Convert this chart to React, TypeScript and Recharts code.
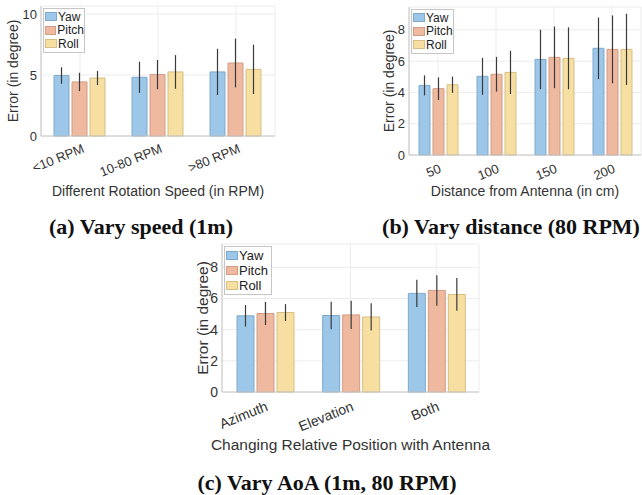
import { BarChart, Bar, XAxis, YAxis, CartesianGrid, ErrorBar } from "recharts";

// (a) rotation speed
const speedCats = ["<10 RPM", "10-80 RPM", ">80 RPM"];
const speedYaw = [4.95, 4.81, 5.25];
const speedPitch = [4.43, 5.03, 5.98];
const speedRoll = [4.75, 5.25, 5.46];
const speedYawErr = [0.68, 1.28, 1.9];
const speedPitchErr = [0.75, 1.2, 2.0];
const speedRollErr = [0.58, 1.38, 2.02];
const speedTicks = [0, 5, 10];

// (b) distance
const distCats = ["50", "100", "150", "200"];
const distYaw = [4.45, 5.03, 6.11, 6.82];
const distPitch = [4.24, 5.16, 6.24, 6.75];
const distRoll = [4.49, 5.28, 6.18, 6.75];
const distYawErr = [0.64, 1.18, 1.9, 1.97];
const distPitchErr = [0.72, 1.11, 1.97, 2.17];
const distRollErr = [0.52, 1.38, 1.98, 2.28];
const distTicks = [0, 2, 4, 6, 8];

// (c) angle of arrival
const aoaCats = ["Azimuth", "Elevation", "Both"];
const aoaYaw = [4.89, 4.91, 6.33];
const aoaPitch = [5.04, 4.95, 6.52];
const aoaRoll = [5.1, 4.82, 6.26];
const aoaYawErr = [0.69, 0.89, 0.88];
const aoaPitchErr = [0.74, 0.9, 0.98];
const aoaRollErr = [0.54, 0.88, 1.05];
const aoaTicks = [0, 2, 4, 6, 8];

const seriesNames = ["Yaw", "Pitch", "Roll"];
const fills = ["#9cc7e8", "#efb9a0", "#f7dfa1"];
const strokes = ["#7ea9cb", "#d39c86", "#d6bf86"];

const SANS = "'Liberation Sans', Arial, sans-serif";

function buildRows(cats, yaw, pitch, roll, yawErr, pitchErr, rollErr) {
  return cats.map((c, i) => ({
    cat: c,
    Yaw: yaw[i],
    Pitch: pitch[i],
    Roll: roll[i],
    YawErr: yawErr[i],
    PitchErr: pitchErr[i],
    RollErr: rollErr[i],
  }));
}

const RotTick = (props) => {
  const { x, y, payload, fs, dx, dy } = props;
  return (
    <g transform={`translate(${x + dx},${y + dy})`}>
      <text
        x={0}
        y={0}
        textAnchor="end"
        transform="rotate(-22)"
        fontSize={fs}
        fill="#333"
        fontFamily={SANS}
      >
        {payload.value}
      </text>
    </g>
  );
};

function Panel({
  px, py, pw, ph, rows, yMax, ticks, xTitle, fs, tfs, lfs, catGap,
  yLabelX, xTitleY, legendW, legendRow, tickDx, tickDy,
}) {
  const padL = 45;
  return (
    <>
      <BarChart
        width={pw + padL + 5}
        height={ph + 5 + 75}
        data={rows}
        margin={{ top: 5, right: 5, bottom: 45, left: 0 }}
        barGap={3}
        barCategoryGap={catGap}
        style={{ position: "absolute", left: px - padL, top: py - 5 }}
      >
        <CartesianGrid stroke="#ececec" />
        <XAxis
          dataKey="cat"
          height={30}
          tickSize={0}
          tickMargin={0}
          interval={0}
          stroke="#c6c6c6"
          tick={<RotTick fs={tfs} dx={tickDx} dy={tickDy} />}
        />
        <XAxis xAxisId="top" dataKey="cat" orientation="top" height={0} tick={false} stroke="#c6c6c6" />
        <YAxis
          width={padL}
          domain={[0, yMax]}
          ticks={ticks}
          tickSize={0}
          tickMargin={4}
          stroke="#c6c6c6"
          tick={{ fontSize: tfs, fill: "#333", fontFamily: SANS }}
        />
        <YAxis yAxisId="right" orientation="right" width={0} domain={[0, yMax]} tick={false} stroke="#c6c6c6" />
        {seriesNames.map((s, i) => (
          <Bar
            key={s}
            dataKey={s}
            fill={fills[i]}
            stroke={strokes[i]}
            strokeWidth={1}
            isAnimationActive={false}
          >
            <ErrorBar dataKey={s + "Err"} width={0} stroke="#3a3a3a" strokeWidth={1.2} />
          </Bar>
        ))}
      </BarChart>

      <div
        style={{
          position: "absolute",
          left: yLabelX,
          top: py + ph / 2,
          transform: "translate(-50%, -50%) rotate(-90deg)",
          fontSize: fs,
          fontFamily: SANS,
          color: "#333",
          whiteSpace: "nowrap",
        }}
      >
        Error (in degree)
      </div>
      <div
        style={{
          position: "absolute",
          left: px + pw / 2,
          top: xTitleY,
          transform: "translate(-50%, -50%)",
          fontSize: fs,
          fontFamily: SANS,
          color: "#333",
          whiteSpace: "nowrap",
        }}
      >
        {xTitle}
      </div>

      <div
        style={{
          position: "absolute",
          left: px + 2,
          top: py + 2,
          width: legendW,
          padding: "1px 0",
          background: "#fff",
          border: "1px solid #c6c6c6",
          fontFamily: SANS,
          fontSize: lfs,
          color: "#222",
        }}
      >
        {seriesNames.map((s, i) => (
          <div key={s} style={{ display: "flex", alignItems: "center", height: legendRow }}>
            <span
              style={{
                display: "inline-block",
                width: 10,
                height: 7,
                marginLeft: 1,
                background: fills[i],
                border: `1px solid ${strokes[i]}`,
              }}
            />
            <span style={{ marginLeft: 1 }}>{s}</span>
          </div>
        ))}
      </div>
    </>
  );
}

const captionStyle = {
  position: "absolute" as const,
  transform: "translate(-50%, -50%)",
  fontFamily: "'Liberation Serif', 'Times New Roman', serif",
  fontWeight: 700,
  fontSize: 22,
  color: "#111",
  whiteSpace: "nowrap" as const,
};

export default function App() {
  const speedRows = buildRows(speedCats, speedYaw, speedPitch, speedRoll, speedYawErr, speedPitchErr, speedRollErr);
  const distRows = buildRows(distCats, distYaw, distPitch, distRoll, distYawErr, distPitchErr, distRollErr);
  const aoaRows = buildRows(aoaCats, aoaYaw, aoaPitch, aoaRoll, aoaYawErr, aoaPitchErr, aoaRollErr);

  return (
    <div
      style={{
        position: "absolute",
        left: 0,
        top: 0,
        width: 642,
        height: 495,
        background: "#fff",
        overflow: "hidden",
      }}
    >
      <Panel
        px={41} py={6} pw={234} ph={130}
        rows={speedRows} yMax={10.65} ticks={speedTicks}
        xTitle="Different Rotation Speed (in RPM)" fs={14} tfs={13} lfs={12} catGap={13}
        yLabelX={13} xTitleY={191} legendW={40} legendRow={13.5}
        tickDx={5} tickDy={16}
      />
      <Panel
        px={409} py={7} pw={232} ph={148}
        rows={distRows} yMax={9.46} ticks={distTicks}
        xTitle="Distance from Antenna (in cm)" fs={14} tfs={13} lfs={12} catGap={10}
        yLabelX={389} xTitleY={191} legendW={41} legendRow={13.5}
        tickDx={4} tickDy={17}
      />
      <Panel
        px={222} py={244} pw={257} ph={148}
        rows={aoaRows} yMax={9.5} ticks={aoaTicks}
        xTitle="Changing Relative Position with Antenna" fs={15.5} tfs={14} lfs={13} catGap={15}
        yLabelX={203} xTitleY={445} legendW={46} legendRow={15}
        tickDx={4} tickDy={18}
      />

      <div style={{ ...captionStyle, left: 141, top: 227 }}>(a) Vary speed (1m)</div>
      <div style={{ ...captionStyle, left: 511, top: 227 }}>(b) Vary distance (80 RPM)</div>
      <div style={{ ...captionStyle, left: 327, top: 483 }}>(c) Vary AoA (1m, 80 RPM)</div>
    </div>
  );
}
